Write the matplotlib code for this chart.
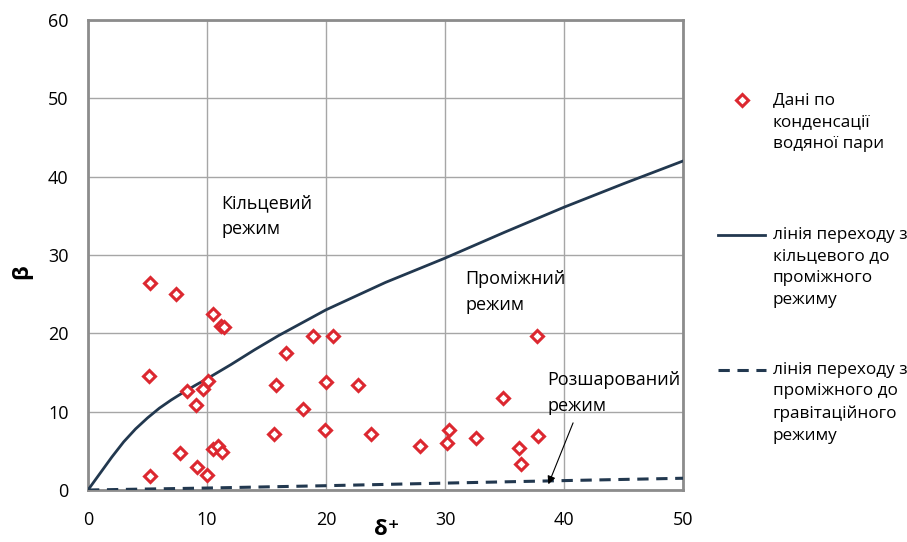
import matplotlib
matplotlib.use('Agg')
import matplotlib.pyplot as plt
from matplotlib.lines import Line2D

plt.rcParams['font.family'] = ['Open Sans', 'DejaVu Sans']

# ---- data ----
delta_data = [5.2, 7.4, 10.5, 11.2, 11.4, 5.1, 8.3, 9.7, 10.1, 9.1, 7.7, 10.5, 10.9, 11.3,
              9.2, 10.0, 5.2, 16.6, 15.8, 15.6, 18.1, 18.9, 20.6, 20.0, 19.9, 22.7, 23.8,
              27.9, 30.3, 30.2, 32.6, 34.9, 37.7, 36.2, 37.8, 36.4]
beta_data = [26.4, 25.0, 22.5, 20.9, 20.8, 14.5, 12.6, 12.9, 13.9, 10.8, 4.7, 5.2, 5.6, 4.8,
             2.9, 1.9, 1.8, 17.5, 13.4, 7.1, 10.3, 19.7, 19.7, 13.8, 7.6, 13.4, 7.1,
             5.6, 7.6, 6.0, 6.6, 11.8, 19.6, 5.4, 6.9, 3.3]

line1_x = [0, 1, 2, 3, 4, 5, 6, 7, 8, 9, 10, 12, 14, 16, 20, 25, 30, 35, 40, 45, 50]
line1_y = [0, 2.1, 4.2, 6.15, 7.8, 9.2, 10.45, 11.5, 12.45, 13.35, 14.2, 16.0, 17.9, 19.7,
           23.0, 26.5, 29.6, 32.9, 36.1, 39.1, 42.0]

line2_x = [0, 10, 20, 30, 40, 50]
line2_y = [0, 0.25, 0.55, 0.88, 1.2, 1.5]

x_ticks = [0, 10, 20, 30, 40, 50]
y_ticks = [0, 10, 20, 30, 40, 50, 60]

label_data = "Дані по\nконденсації\nводяної пари"
label_l1 = "лінія переходу з\nкільцевого до\nпроміжного\nрежиму"
label_l2 = "лінія переходу з\nпроміжного до\nгравітаційного\nрежиму"

# ---- style ----
W, H = 907, 542
RED = '#dc2830'
NAVY = '#22384f'
FS = 13
LFS = 12.3
DASH = (0, (3.7, 2.5))

fig = plt.figure(figsize=(W / 100, H / 100), dpi=100)
ax = fig.add_axes([88 / W, 1 - 490 / H, (683 - 88) / W, (490 - 20) / H])

ax.set_xlim(0, 50)
ax.set_ylim(0, 60)
ax.set_xticks(x_ticks)
ax.set_yticks(y_ticks)
ax.tick_params(length=0, labelsize=FS, colors='black')
ax.tick_params(axis='y', pad=14)
ax.tick_params(axis='x', pad=15)
ax.grid(True, color='#a6a6a6', lw=1.0)
ax.set_axisbelow(True)
for s in ax.spines.values():
    s.set_color('#8c8c8c')
    s.set_linewidth(2.0)

ax.plot(line1_x, line1_y, color=NAVY, lw=2.0, zorder=3)
ax.plot(line2_x, line2_y, color=NAVY, lw=2.2, ls=DASH, zorder=3)
ax.plot(delta_data, beta_data, ls='none', marker='D', markersize=6.3,
        markerfacecolor='white', markeredgecolor=RED, markeredgewidth=2.2, zorder=4)

ax.text(11.2, 37.8, "Кільцевий\nрежим", fontsize=FS, va='top', ha='left', linespacing=1.6)
ax.text(31.7, 28.1, "Проміжний\nрежим", fontsize=FS, va='top', ha='left', linespacing=1.6)
ax.text(38.6, 15.25, "Розшарований\nрежим", fontsize=FS, va='top', ha='left', linespacing=1.6)
ax.annotate('', xy=(38.6, 0.4), xytext=(40.85, 8.9),
            arrowprops=dict(arrowstyle='-|>', color='black', lw=0.8, mutation_scale=12))

ax.set_xlabel("δ⁺", fontsize=16, fontweight='bold', labelpad=0)
ax.xaxis.set_label_coords((387 - 88) / (683 - 88), -(519 - 490) / (490 - 20))
ax.set_ylabel("β", fontsize=16, fontweight='bold')
ax.yaxis.set_label_coords(-(88 - 32) / (683 - 88), (490 - 272) / (490 - 20))

# ---- legend (drawn in figure pixel space) ----
def fx(p):
    return p / W

def fy(p):
    return 1 - p / H

fig.add_artist(Line2D([fx(742)], [fy(100)], ls='none', marker='D', markersize=6.3,
                      markerfacecolor='white', markeredgecolor=RED, markeredgewidth=2.2))
fig.text(fx(773), fy(92), label_data, fontsize=LFS, va='top', ha='left', linespacing=1.49)

fig.add_artist(Line2D([fx(718), fx(765)], [fy(235), fy(235)], color=NAVY, lw=2.0))
fig.text(fx(773), fy(226.5), label_l1, fontsize=LFS, va='top', ha='left', linespacing=1.49)

fig.add_artist(Line2D([fx(718), fx(766)], [fy(369.5), fy(369.5)], color=NAVY, lw=2.2,
                      ls=DASH))
fig.text(fx(773), fy(361.5), label_l2, fontsize=LFS, va='top', ha='left', linespacing=1.49)

fig.savefig('out.png', dpi=100)
